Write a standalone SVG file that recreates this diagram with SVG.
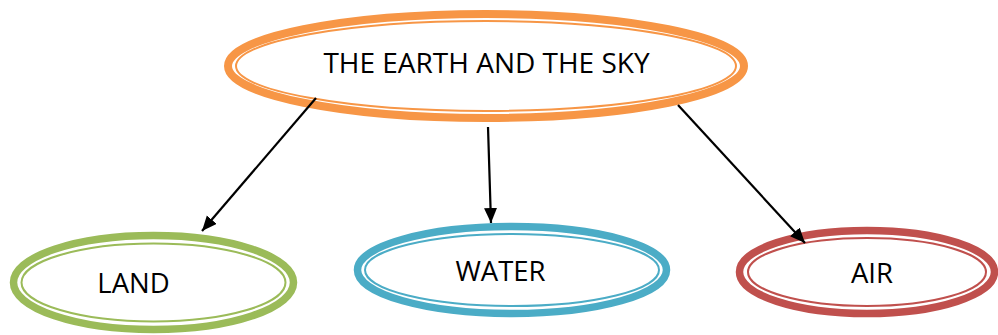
<svg xmlns="http://www.w3.org/2000/svg" width="998" height="335" viewBox="0 0 998 335">
<defs>
<style>
.lbl{font-family:"Open Sans","Liberation Sans",sans-serif;font-size:27.5px;fill:#000;text-anchor:middle}
.big{font-size:28px}
.thin{fill:none;stroke-width:2}
.conn line{stroke:#000;stroke-width:2.2;marker-end:url(#ah)}
</style>
<marker id="ah" markerUnits="userSpaceOnUse" markerWidth="16" markerHeight="14" refX="15" refY="6.5" orient="auto">
<path d="M0,0 L15,6.5 L0,13 z" fill="#000"/>
</marker>
</defs>
<rect width="998" height="335" fill="#fff"/>
<g id="top">
<ellipse cx="486" cy="66" rx="258" ry="52" fill="#fff" stroke="#F79646" stroke-width="8"/>
<ellipse class="thin" cx="486" cy="66" rx="250" ry="45" stroke="#F79646"/>
<text class="lbl big" x="486.5" y="73">THE EARTH AND THE SKY</text>
</g>
<g id="land">
<ellipse cx="153.5" cy="282.5" rx="140" ry="47" fill="#fff" stroke="#9BBB59" stroke-width="7.5"/>
<ellipse class="thin" cx="153.5" cy="282.5" rx="132" ry="39" stroke="#9BBB59"/>
<text class="lbl" x="133.5" y="293">LAND</text>
</g>
<g id="water">
<ellipse cx="512" cy="270" rx="154.5" ry="43.5" fill="#fff" stroke="#4BACC6" stroke-width="7.5"/>
<ellipse class="thin" cx="512" cy="270" rx="147" ry="36" stroke="#4BACC6"/>
<text class="lbl" x="500.5" y="281">WATER</text>
</g>
<g id="air">
<ellipse cx="867" cy="272" rx="127.5" ry="41.5" fill="#fff" stroke="#C0504D" stroke-width="7.5"/>
<ellipse class="thin" cx="867" cy="272" rx="119" ry="34" stroke="#C0504D"/>
<text class="lbl" x="872" y="283">AIR</text>
</g>
<g id="connectors" class="conn">
<line x1="316" y1="98" x2="202" y2="231"/>
<line x1="488" y1="127" x2="491" y2="223"/>
<line x1="678" y1="105" x2="805" y2="243"/>
</g>
</svg>
